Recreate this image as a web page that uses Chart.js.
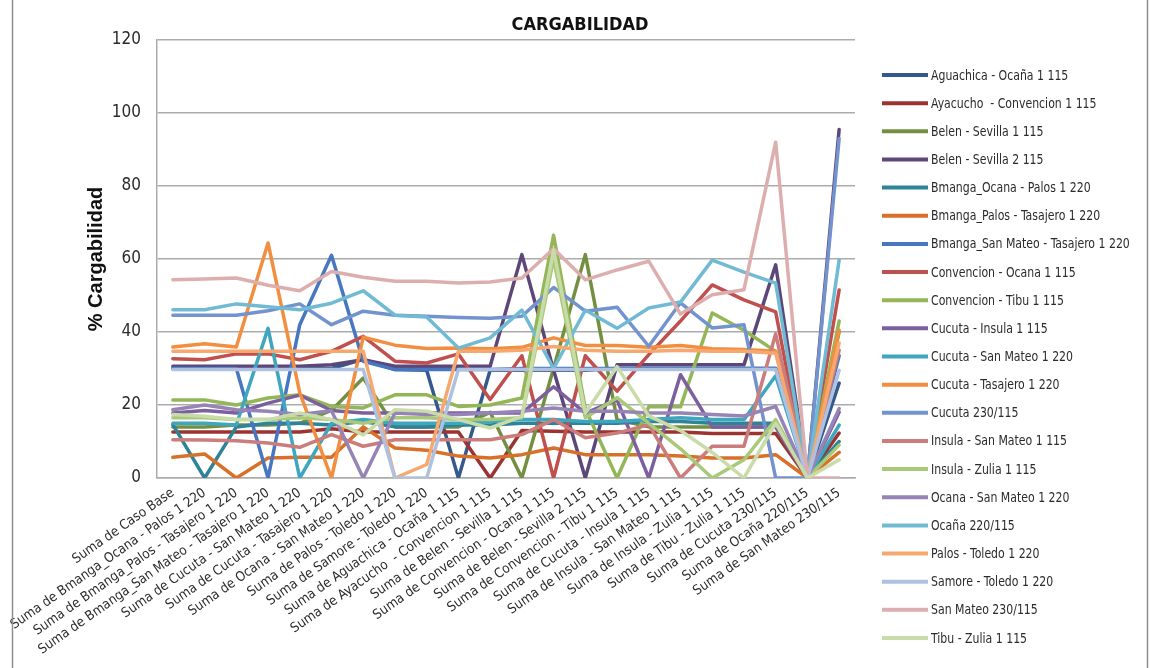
<!DOCTYPE html>
<html>
<head>
<meta charset="utf-8">
<script src="https://cdn.jsdelivr.net/npm/chart.js@4.4.1/dist/chart.umd.min.js"></script>
<style>
  html, body { margin: 0; padding: 0; background: #fff; }
  #wrap { width: 1150px; height: 668px; }
</style>
</head>
<body>
<div id="wrap"><canvas id="chart" width="1150" height="668"></canvas></div>
<script>
/* ============================================================
   CARGABILIDAD — loading per contingency, one line per element
   ============================================================ */

// ---- data -------------------------------------------------------
const TITLE = 'CARGABILIDAD';
const Y_TITLE = '% Cargabilidad';

const categories = [
  'Suma de Caso Base',
  'Suma de Bmanga_Ocana - Palos 1 220',
  'Suma de Bmanga_Palos - Tasajero 1 220',
  'Suma de Bmanga_San Mateo - Tasajero 1 220',
  'Suma de Cucuta - San Mateo 1 220',
  'Suma de Cucuta - Tasajero 1 220',
  'Suma de Ocana - San Mateo 1 220',
  'Suma de Palos - Toledo 1 220',
  'Suma de Samore - Toledo 1 220',
  'Suma de Aguachica - Ocaña 1 115',
  'Suma de Ayacucho  - Convencion 1 115',
  'Suma de Belen - Sevilla 1 115',
  'Suma de Convencion - Ocana 1 115',
  'Suma de Belen - Sevilla 2 115',
  'Suma de Convencion - Tibu 1 115',
  'Suma de Cucuta - Insula 1 115',
  'Suma de Insula - San Mateo 1 115',
  'Suma de Insula - Zulia 1 115',
  'Suma de Tibu - Zulia 1 115',
  'Suma de Cucuta 230/115',
  'Suma de Ocaña 220/115',
  'Suma de San Mateo 230/115',
];

const seriesNames = [
  'Aguachica - Ocaña 1 115',
  'Ayacucho  - Convencion 1 115',
  'Belen - Sevilla 1 115',
  'Belen - Sevilla 2 115',
  'Bmanga_Ocana - Palos 1 220',
  'Bmanga_Palos - Tasajero 1 220',
  'Bmanga_San Mateo - Tasajero 1 220',
  'Convencion - Ocana 1 115',
  'Convencion - Tibu 1 115',
  'Cucuta - Insula 1 115',
  'Cucuta - San Mateo 1 220',
  'Cucuta - Tasajero 1 220',
  'Cucuta 230/115',
  'Insula - San Mateo 1 115',
  'Insula - Zulia 1 115',
  'Ocana - San Mateo 1 220',
  'Ocaña 220/115',
  'Palos - Toledo 1 220',
  'Samore - Toledo 1 220',
  'San Mateo 230/115',
  'Tibu - Zulia 1 115',
];

const aguachicaOcana     = [30, 30, 30, 30, 30, 30, 32.5, 29.7, 29.5, 0, 29.5, 29.5, 29.5, 29.5, 30, 30, 30, 30, 30, 30, 0, 26];
const ayacuchoConvencion = [12.6, 12.6, 12.6, 12.6, 12.6, 13.5, 12.6, 12.6, 12.6, 12.6, 0, 13, 12.8, 12.6, 12.6, 12.6, 12.6, 12.2, 12.2, 12.2, 0, 12.3];
const belenSevilla1      = [14, 14, 14.5, 14.5, 15, 18.5, 27.4, 14, 14, 14, 18, 0, 30, 61.2, 16, 14, 14, 14, 14, 14, 0, 40];
const belenSevilla2      = [30.6, 30.6, 30.6, 30.6, 30.6, 31, 32.4, 30.6, 30.6, 30.6, 30.6, 61.2, 29.5, 0, 31, 31, 31, 31, 31, 58.4, 0, 95.5];
const bmangaOcanaPalos   = [14.6, 0, 14, 15, 15, 14.5, 15.5, 14, 14, 14.5, 14.5, 15, 15, 15, 15, 15.5, 15.5, 15, 15, 15, 0, 10];
const bmangaPalosTasaj   = [5.7, 6.6, 0, 5.5, 5.7, 5.7, 14, 8.2, 7.6, 6, 5.5, 6.4, 8.2, 6.4, 6.4, 6.4, 6, 5.5, 5.5, 6.4, 0, 7];
const bmangaSanMateoTas  = [30, 30, 30, 0, 42, 61, 32, 29.7, 29.7, 29.7, 29.7, 30, 30, 30, 30, 30, 30, 30, 30, 30, 0, 33.5];
const convencionOcana    = [32.7, 32.4, 34, 34, 32.4, 34.7, 38.8, 32, 31.5, 34, 21.5, 33.5, 0, 33.5, 23.8, 33.8, 43, 52.9, 48.8, 45.5, 0, 51.5];
const convencionTibu     = [21.4, 21.4, 20, 21.9, 22.8, 19.6, 19.2, 22.8, 22.8, 19.6, 20, 21.9, 66.5, 19, 0, 19.5, 19.5, 45.2, 40.5, 34.7, 0, 43];
const cucutaInsula       = [17.8, 18.5, 17.8, 20.5, 22.7, 18.5, 17.8, 17.8, 17.8, 17.8, 17.8, 17.8, 25, 17.8, 21.4, 0, 28.3, 14, 14, 14, 0, 18];
const cucutaSanMateo     = [15, 15, 14.5, 41, 0, 15, 16, 15, 15, 15, 15.5, 16, 16, 15.5, 15.5, 16, 16.5, 16, 16, 28, 0, 14.5];
const cucutaTasajero     = [35.9, 36.8, 35.9, 64.4, 23.3, 0, 38.6, 36.4, 35.5, 35.6, 35.4, 35.8, 38.4, 36.3, 36.3, 35.8, 36.3, 35.4, 35.2, 34.7, 0, 40.5];
const cucutaTrafo        = [44.6, 44.6, 44.6, 45.8, 47.7, 42, 45.7, 44.6, 44.3, 44, 43.8, 44.3, 52.2, 45.7, 46.8, 36.1, 48, 41.1, 42, 0, 0, 93];
const insulaSanMateo     = [10.5, 10.4, 10.2, 9.6, 8.4, 11.9, 8.7, 10.5, 10.5, 10.5, 10.5, 11.9, 16, 11, 12.3, 14.6, 0, 8.7, 8.7, 39.5, 0, 35];
const insulaZulia        = [16.5, 16.5, 16, 16, 16.5, 16, 15, 16.5, 16.5, 16, 16, 16.5, 60, 16.5, 22, 15, 8, 0, 5, 16, 0, 9];
const ocanaSanMateo      = [18.7, 20, 18.7, 18.3, 17.4, 18.4, 0, 17.8, 17.4, 17.4, 17.8, 18.3, 19.2, 18.3, 18.3, 17.8, 17.8, 17.4, 17, 19.6, 0, 19];
const ocanaTrafo         = [46.1, 46.1, 47.7, 46.9, 46.1, 47.9, 51.3, 44.6, 44.1, 35.6, 38.4, 46, 30, 46, 41, 46.6, 48.2, 59.7, 56.4, 53.4, 0, 59.7];
const palosToledo        = [34.7, 34.7, 34.7, 34.7, 34.7, 34.7, 34.7, 0, 3.7, 34.7, 34.7, 35, 36, 35, 34.7, 34.7, 35, 34.7, 34.7, 34.2, 0, 37];
const samoreToledo       = [29.7, 29.7, 29.7, 29.7, 29.7, 29.7, 29.7, 0, 0, 29.7, 29.7, 29.7, 29.7, 29.7, 29.7, 29.7, 29.7, 29.7, 29.7, 29.7, 0, 29.5];
const sanMateoTrafo      = [54.3, 54.5, 54.8, 52.8, 51.3, 56.6, 55, 53.9, 53.9, 53.4, 53.7, 54.8, 62.8, 54.3, 57, 59.4, 44.9, 50.2, 51.6, 92, 0, 0];
const tibuZulia          = [17.4, 16.9, 16, 16, 17.8, 16, 11.8, 18.7, 18.3, 16, 13.7, 16.9, 62.5, 17.8, 30.5, 17, 13, 7, 0, 15, 0, 5];

const seriesValues = [
  aguachicaOcana, ayacuchoConvencion, belenSevilla1, belenSevilla2,
  bmangaOcanaPalos, bmangaPalosTasaj, bmangaSanMateoTas, convencionOcana,
  convencionTibu, cucutaInsula, cucutaSanMateo, cucutaTasajero,
  cucutaTrafo, insulaSanMateo, insulaZulia, ocanaSanMateo,
  ocanaTrafo, palosToledo, samoreToledo, sanMateoTrafo, tibuZulia,
];

// ---- styles -----------------------------------------------------
const COLORS = [
  '#34598C', '#9B3431', '#739040', '#5C4778', '#2F8398', '#D9702A', '#4677C0',
  '#C0504D', '#93B656', '#7D5FA0', '#3FA6C0', '#F28E40', '#7393CF', '#CB7D7C',
  '#A9C978', '#9784B6', '#70BBD3', '#F7A86F', '#AEC1E1', '#DDAEAE', '#C8DBA8',
];
const NARROW = '"Liberation Sans Narrow", "DejaVu Sans Condensed", sans-serif';
const TEXT = '#2b2b2b';
const GRID = '#ABABAB';

// title, outer frame and the legend column, drawn by hand
const frameAndLegend = {
  id: 'frameAndLegend',
  beforeDraw(chart) {
    const ctx = chart.ctx;
    ctx.save();
    ctx.fillStyle = '#ffffff';
    ctx.fillRect(0, 0, chart.width, chart.height);
    ctx.restore();
  },
  afterDraw(chart) {
    const ctx = chart.ctx;
    ctx.save();

    ctx.fillStyle = '#111';
    ctx.font = 'bold 18px ' + NARROW;
    ctx.textAlign = 'center';
    ctx.textBaseline = 'middle';
    ctx.fillText(TITLE, 580, 25);

    ctx.strokeStyle = '#8E8E8E';
    ctx.lineWidth = 1.5;
    ctx.beginPath();
    ctx.moveTo(12.5, 0); ctx.lineTo(12.5, chart.height);
    ctx.moveTo(1147.5, 0); ctx.lineTo(1147.5, chart.height);
    ctx.stroke();

    ctx.font = '13.5px ' + NARROW;
    ctx.textAlign = 'left';
    chart.data.datasets.forEach((ds, i) => {
      const y = 75 + i * 28.15;
      ctx.strokeStyle = ds.borderColor;
      ctx.lineWidth = 4;
      ctx.lineCap = 'butt';
      ctx.beginPath();
      ctx.moveTo(882, y);
      ctx.lineTo(928, y);
      ctx.stroke();
      // squeeze the text a little, the original face is narrower
      ctx.save();
      ctx.translate(931, y + 1);
      ctx.scale(0.9, 1);
      ctx.fillStyle = TEXT;
      ctx.fillText(ds.label, 0, 0);
      ctx.restore();
    });

    ctx.restore();
  },
};

const datasets = seriesNames.map((name, i) => ({
  label: name,
  data: seriesValues[i],
  borderColor: COLORS[i],
  backgroundColor: COLORS[i],
  borderWidth: 3.5,
  pointRadius: 0,
  tension: 0,
  fill: false,
  borderJoinStyle: 'round',
  borderCapStyle: 'round',
  order: seriesNames.length - i, // later series on top, like the original
}));

new Chart(document.getElementById('chart'), {
  type: 'line',
  data: { labels: categories, datasets },
  plugins: [frameAndLegend],
  options: {
    responsive: false,
    animation: false,
    layout: { padding: { top: 40, right: 295, bottom: 0, left: 0 } },
    plugins: {
      legend: { display: false },
      title: { display: false },
      tooltip: { enabled: false },
    },
    scales: {
      x: {
        offset: true,
        grid: { display: false, drawTicks: false },
        border: { display: true, color: GRID, width: 1.5 },
        ticks: {
          autoSkip: false,
          minRotation: 35,
          maxRotation: 35,
          padding: 7,
          color: TEXT,
          font: { family: NARROW, size: 13.5 },
        },
        afterFit(scale) { scale.height = 190; },
      },
      y: {
        min: 0,
        max: 120,
        ticks: {
          stepSize: 20,
          padding: 16,
          color: TEXT,
          font: { family: NARROW, size: 17 },
        },
        grid: { color: GRID, lineWidth: 1.5, drawTicks: false },
        border: { display: true, color: GRID, width: 1.5 },
        title: {
          display: true,
          text: Y_TITLE,
          color: '#111',
          font: { family: '"Liberation Sans", Arial, sans-serif', size: 20, weight: 'bold' },
          padding: { top: 84, bottom: 0 },
        },
        afterFit(scale) { scale.width = 157; },
      },
    },
  },
});
</script>
</body>
</html>
